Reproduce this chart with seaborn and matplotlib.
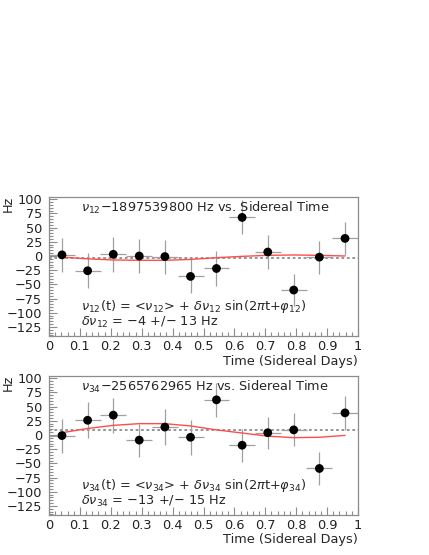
import numpy as np
import pandas as pd
import seaborn as sns

import matplotlib

matplotlib.use("Agg")
import matplotlib.pyplot as plt
from matplotlib.ticker import MultipleLocator

# bin centres in sidereal days (12 bins)
time_bins = [0.042, 0.125, 0.208, 0.292, 0.375, 0.458, 0.542, 0.625, 0.708, 0.792, 0.875, 0.958]
bin_half_width = 0.042

# nu_12 residuals (Hz) and errors
nu12_values = [2, -26, 3, 0, -1, -36, -22, 68, 7, -60, -2, 31]
nu12_errors = [30, 31, 31, 30, 30, 30, 30, 30, 30, 29, 29, 29]
nu12_mean = -3
nu12_fit = [-2, -5, -7, -7.6, -7.6, -6, -3, -0.6, 1.2, 1.8, 1.2, 0]

# nu_34 residuals (Hz) and errors
nu34_values = [-1, 26, 35, -9, 14, -4, 62, -18, 4, 9, -59, 39]
nu34_errors = [30, 32, 31, 29, 31, 31, 30, 29, 28, 29, 29, 30]
nu34_mean = 8
nu34_fit = [4, 11.5, 17, 20, 20, 16, 9, 3.5, -2, -4.7, -4, -0.7]

panels = [
    {
        "values": nu12_values, "errors": nu12_errors, "mean": nu12_mean, "fit": nu12_fit,
        "title": r"$\nu_{12}$" + "\u22121897539800 Hz vs. Sidereal Time",
        "formula": r"$\nu_{12}$(t) = <$\nu_{12}$> + $\delta\nu_{12}$ sin(2$\pi$t+$\varphi_{12}$)",
        "result": r"$\delta\nu_{12}$ = " + "\u22124 +/\u2212 13 Hz",
    },
    {
        "values": nu34_values, "errors": nu34_errors, "mean": nu34_mean, "fit": nu34_fit,
        "title": r"$\nu_{34}$" + "\u22122565762965 Hz vs. Sidereal Time",
        "formula": r"$\nu_{34}$(t) = <$\nu_{34}$> + $\delta\nu_{34}$ sin(2$\pi$t+$\varphi_{34}$)",
        "result": r"$\delta\nu_{34}$ = " + "\u221213 +/\u2212 15 Hz",
    },
]

sns.set_theme(style="ticks")
plt.rcParams["font.family"] = ["DejaVu Sans"]
plt.rcParams["mathtext.fontset"] = "dejavusans"
plt.rcParams["axes.unicode_minus"] = True

W, H = 429, 555
fig = plt.figure(figsize=(W / 100, H / 100), dpi=100)
fig.patch.set_facecolor("white")

frame_color = "#8c8c8c"
fs = 9.3

axes_px = [(49, 197, 358, 336), (49, 376, 358, 515)]

for panel, (x0, y0, x1, y1) in zip(panels, axes_px):
    ax = fig.add_axes([x0 / W, 1 - y1 / H, (x1 - x0) / W, (y1 - y0) / H])
    df = pd.DataFrame({"t": time_bins, "v": panel["values"], "e": panel["errors"], "fit": panel["fit"]})

    ax.axhline(panel["mean"], color="#8c8c8c", lw=1.3, ls=(0, (1.5, 1.5)), zorder=1)
    ax.errorbar(df["t"], df["v"], xerr=bin_half_width, yerr=df["e"], fmt="none",
                ecolor="#a0a0a0", elinewidth=0.9, capsize=0, zorder=2)
    sns.lineplot(data=df, x="t", y="fit", ax=ax, color="#ff4d4d", lw=1.0, zorder=3)
    sns.scatterplot(data=df, x="t", y="v", ax=ax, color="black", s=40, edgecolor="none", zorder=4)

    ax.set_xlim(0, 1)
    ax.set_ylim(-141, 104)
    ax.xaxis.set_minor_locator(MultipleLocator(0.02))
    ax.yaxis.set_minor_locator(MultipleLocator(5))
    ax.set_yticks([100, 75, 50, 25, 0, -25, -50, -75, -100, -125])
    ax.set_xticks(np.round(np.arange(0, 1.01, 0.1), 1))
    ax.set_xticklabels(["0", "0.1", "0.2", "0.3", "0.4", "0.5", "0.6", "0.7", "0.8", "0.9", "1"])
    ax.tick_params(which="both", direction="in", color=frame_color, labelsize=fs,
                   labelcolor="#222222", top=False, right=False)
    ax.tick_params(axis="y", pad=5)
    ax.tick_params(axis="x", pad=3)
    ax.tick_params(which="major", length=6, width=0.8)
    ax.tick_params(which="minor", length=3, width=0.8)
    for s in ax.spines.values():
        s.set_color(frame_color)
        s.set_linewidth(0.9)
    ax.set_xlabel("")
    ax.set_ylabel("")

    ax.text(0.103, 0.92, panel["title"], transform=ax.transAxes, fontsize=fs, va="center", ha="left")
    ax.text(0.103, 0.21, panel["formula"], transform=ax.transAxes, fontsize=fs, va="center", ha="left")
    ax.text(0.103, 0.094, panel["result"], transform=ax.transAxes, fontsize=fs, va="center", ha="left")

    fig.text(8 / W, 1 - (y0 - 1) / H, "Hz", rotation=90, fontsize=fs, ha="center", va="top")
    fig.text(x1 / W, 1 - (y1 + 25) / H, "Time (Sidereal Days)", fontsize=fs, ha="right", va="center")

fig.savefig("out.png", dpi=100, facecolor="white")
